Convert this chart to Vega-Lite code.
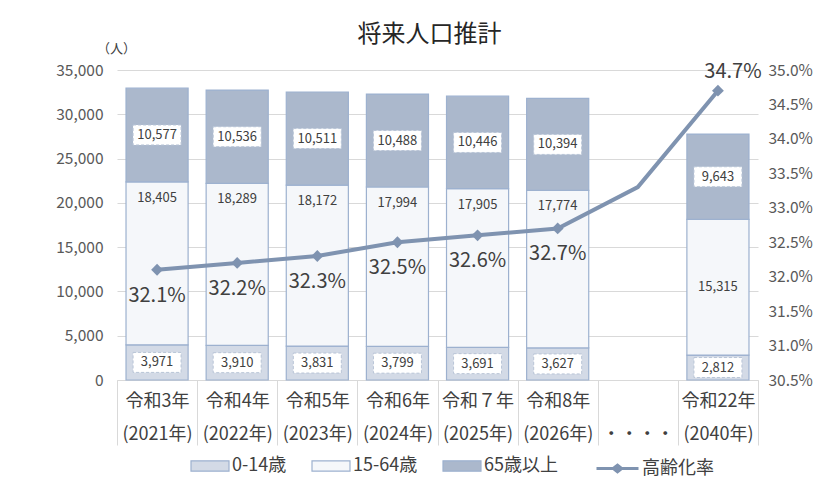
{
  "$schema": "https://vega.github.io/schema/vega-lite/v6.json",
  "width": 641,
  "height": 310,
  "autosize": "none",
  "padding": {"left": 117, "top": 70, "right": 75, "bottom": 106},
  "background": "white",
  "title": {"text": "将来人口推計", "fontSize": 24, "font": "Noto Sans CJK JP", "fontWeight": "normal", "color": "#262626", "offset": -5, "anchor": "middle", "dx": -8},
  "datasets": {
    "pop": [
      {"cat": "令和3年|(2021年)", "grp": "0-14歳", "value": 3971},
      {"cat": "令和3年|(2021年)", "grp": "15-64歳", "value": 18405},
      {"cat": "令和3年|(2021年)", "grp": "65歳以上", "value": 10577},
      {"cat": "令和4年|(2022年)", "grp": "0-14歳", "value": 3910},
      {"cat": "令和4年|(2022年)", "grp": "15-64歳", "value": 18289},
      {"cat": "令和4年|(2022年)", "grp": "65歳以上", "value": 10536},
      {"cat": "令和5年|(2023年)", "grp": "0-14歳", "value": 3831},
      {"cat": "令和5年|(2023年)", "grp": "15-64歳", "value": 18172},
      {"cat": "令和5年|(2023年)", "grp": "65歳以上", "value": 10511},
      {"cat": "令和6年|(2024年)", "grp": "0-14歳", "value": 3799},
      {"cat": "令和6年|(2024年)", "grp": "15-64歳", "value": 17994},
      {"cat": "令和6年|(2024年)", "grp": "65歳以上", "value": 10488},
      {"cat": "令和７年|(2025年)", "grp": "0-14歳", "value": 3691},
      {"cat": "令和７年|(2025年)", "grp": "15-64歳", "value": 17905},
      {"cat": "令和７年|(2025年)", "grp": "65歳以上", "value": 10446},
      {"cat": "令和8年|(2026年)", "grp": "0-14歳", "value": 3627},
      {"cat": "令和8年|(2026年)", "grp": "15-64歳", "value": 17774},
      {"cat": "令和8年|(2026年)", "grp": "65歳以上", "value": 10394},
      {"cat": "令和22年|(2040年)", "grp": "0-14歳", "value": 2812},
      {"cat": "令和22年|(2040年)", "grp": "15-64歳", "value": 15315},
      {"cat": "令和22年|(2040年)", "grp": "65歳以上", "value": 9643}
    ],
    "rate": [
      {"cat": "令和3年|(2021年)", "series": "高齢化率", "rate": 0.321},
      {"cat": "令和4年|(2022年)", "series": "高齢化率", "rate": 0.322},
      {"cat": "令和5年|(2023年)", "series": "高齢化率", "rate": 0.323},
      {"cat": "令和6年|(2024年)", "series": "高齢化率", "rate": 0.325},
      {"cat": "令和７年|(2025年)", "series": "高齢化率", "rate": 0.326},
      {"cat": "令和8年|(2026年)", "series": "高齢化率", "rate": 0.327},
      {"cat": " |・・・・", "series": "高齢化率", "rate": 0.333},
      {"cat": "令和22年|(2040年)", "series": "高齢化率", "rate": 0.347}
    ]
  },
  "encoding": {
    "x": {
      "field": "cat", "type": "nominal", "sort": null,
      "scale": {"domain": ["令和3年|(2021年)", "令和4年|(2022年)", "令和5年|(2023年)", "令和6年|(2024年)", "令和７年|(2025年)", "令和8年|(2026年)", " |・・・・", "令和22年|(2040年)"], "paddingInner": 0, "paddingOuter": 0},
      "axis": {"title": null, "labelAngle": 0, "labelExpr": "split(datum.label, '|')", "labelFontSize": 18, "labelColor": "#404040", "labelLineHeight": 33, "labelFont": "Noto Sans CJK JP", "domainColor": "#d9d9d9", "tickColor": "#d9d9d9", "tickSize": 65, "tickBand": "extent", "labelPadding": -53, "labelBaseline": "top", "labelOverlap": false, "labelLimit": 0}
    }
  },
  "layer": [
    {
      "data": {"name": "pop"},
      "layer": [
        {
          "mark": {"type": "bar", "width": {"band": 0.775}, "stroke": "#9db1cf", "strokeWidth": 1.2},
          "encoding": {
            "y": {"field": "value", "type": "quantitative", "stack": "zero",
              "scale": {"domain": [0, 35000], "nice": false},
              "axis": {"orient": "left", "title": "（人）", "titleAngle": 0, "titleX": -1, "titleY": -22, "titleAlign": "center", "titleBaseline": "middle", "titleFontSize": 13, "titleFontWeight": "normal", "titleColor": "#404040", "titleFont": "Noto Sans CJK JP", "grid": true, "gridColor": "#d9d9d9", "domain": false, "ticks": false, "values": [0, 5000, 10000, 15000, 20000, 25000, 30000, 35000], "labelExpr": "format(datum.value, ',')", "labelOverlap": false, "labelFontSize": 15.5, "labelColor": "#595959", "labelFont": "Noto Sans CJK JP", "labelPadding": 14}},
            "color": {"field": "grp", "type": "nominal",
              "scale": {"domain": ["0-14歳", "15-64歳", "65歳以上"], "range": ["#d3dae6", "#f5f7fa", "#abb8cc"]},
              "legend": {"title": null, "orient": "none", "legendX": 73, "legendY": 376, "direction": "horizontal", "symbolType": "M-1,-0.27H1V0.27H-1Z", "symbolSize": 1444, "symbolStrokeColor": "#9db1cf", "symbolStrokeWidth": 1.2, "labelFontSize": 18, "labelColor": "#404040", "labelFont": "Noto Sans CJK JP", "labelOffset": 2, "columnPadding": 22, "padding": 0}},
            "order": {"field": "grp", "type": "nominal", "sort": "ascending"}
          }
        },
        {
          "mark": {"type": "point", "shape": "M-2.4,-1H2.4V1H-2.4Z", "filled": true, "fill": "white", "stroke": "#b8c4d6", "strokeWidth": 1, "strokeDash": [3, 2], "size": 400},
          "encoding": {
            "y": {"field": "value", "type": "quantitative", "stack": "zero", "bandPosition": 0.5},
            "detail": {"field": "grp"},
            "order": {"field": "grp", "type": "nominal", "sort": "ascending"},
            "opacity": {"condition": {"test": "datum.grp === '15-64歳'", "value": 0}, "value": 1}
          }
        },
        {
          "mark": {"type": "text", "fontSize": 13, "color": "#404040", "font": "Noto Sans CJK JP"},
          "encoding": {
            "y": {"field": "value", "type": "quantitative", "stack": "zero", "bandPosition": 0.5},
            "detail": {"field": "grp"},
            "order": {"field": "grp", "type": "nominal", "sort": "ascending"},
            "text": {"condition": {"test": "datum.grp === '15-64歳' && datum.cat !== '令和22年|(2040年)'", "value": ""}, "field": "value", "type": "quantitative", "format": ","}
          }
        },
        {
          "mark": {"type": "text", "fontSize": 13, "color": "#404040", "font": "Noto Sans CJK JP", "dy": 16},
          "encoding": {
            "y": {"field": "value", "type": "quantitative", "stack": "zero"},
            "detail": {"field": "grp"},
            "order": {"field": "grp", "type": "nominal", "sort": "ascending"},
            "text": {"condition": {"test": "datum.grp !== '15-64歳' || datum.cat === '令和22年|(2040年)'", "value": ""}, "field": "value", "type": "quantitative", "format": ","}
          }
        }
      ]
    },
    {
      "data": {"name": "rate"},
      "encoding": {
        "y": {"field": "rate", "type": "quantitative",
          "scale": {"domain": [0.305, 0.35], "nice": false, "zero": false},
          "axis": {"orient": "right", "title": null, "grid": false, "domain": false, "ticks": false, "values": [0.305, 0.31, 0.315, 0.32, 0.325, 0.33, 0.335, 0.34, 0.345, 0.35], "labelExpr": "format(datum.value, '.1%')", "labelOverlap": false, "labelFontSize": 15.5, "labelColor": "#595959", "labelFont": "Noto Sans CJK JP", "labelPadding": 10}}
      },
      "layer": [
        {
          "mark": {"type": "line", "strokeWidth": 4},
          "encoding": {
            "stroke": {"field": "series", "type": "nominal", "scale": {"range": ["#7f93b0"]},
              "legend": {"title": null, "orient": "none", "legendX": 478, "legendY": 376, "symbolType": "M-1,0H1M-0.2,0L0,-0.16L0.2,0L0,0.16Z", "symbolSize": 1764, "symbolStrokeWidth": 3, "symbolFillColor": "#7f93b0", "labelFontSize": 18, "labelColor": "#404040", "labelFont": "Noto Sans CJK JP", "labelOffset": 2, "padding": 0}}
          }
        },
        {
          "transform": [{"filter": "datum.cat !== ' |・・・・'"}],
          "mark": {"type": "point", "shape": "diamond", "filled": true, "color": "#7f93b0", "size": 140, "opacity": 1},
          "encoding": {}
        },
        {
          "transform": [{"filter": "datum.cat !== ' |・・・・' && datum.cat !== '令和22年|(2040年)'"}],
          "mark": {"type": "text", "fontSize": 20, "color": "#404040", "font": "Noto Sans CJK JP", "dy": 26},
          "encoding": {"text": {"field": "rate", "type": "quantitative", "format": ".1%"}}
        },
        {
          "transform": [{"filter": "datum.cat === '令和22年|(2040年)'"}],
          "mark": {"type": "text", "fontSize": 20, "color": "#404040", "font": "Noto Sans CJK JP", "dx": 15, "dy": -19},
          "encoding": {"text": {"field": "rate", "type": "quantitative", "format": ".1%"}}
        }
      ]
    }
  ],
  "resolve": {"scale": {"y": "independent"}},
  "config": {"view": {"stroke": null}, "font": "Noto Sans CJK JP", "axisY": {"labelOverlap": false}, "axisRight": {"labelOverlap": false}}
}
